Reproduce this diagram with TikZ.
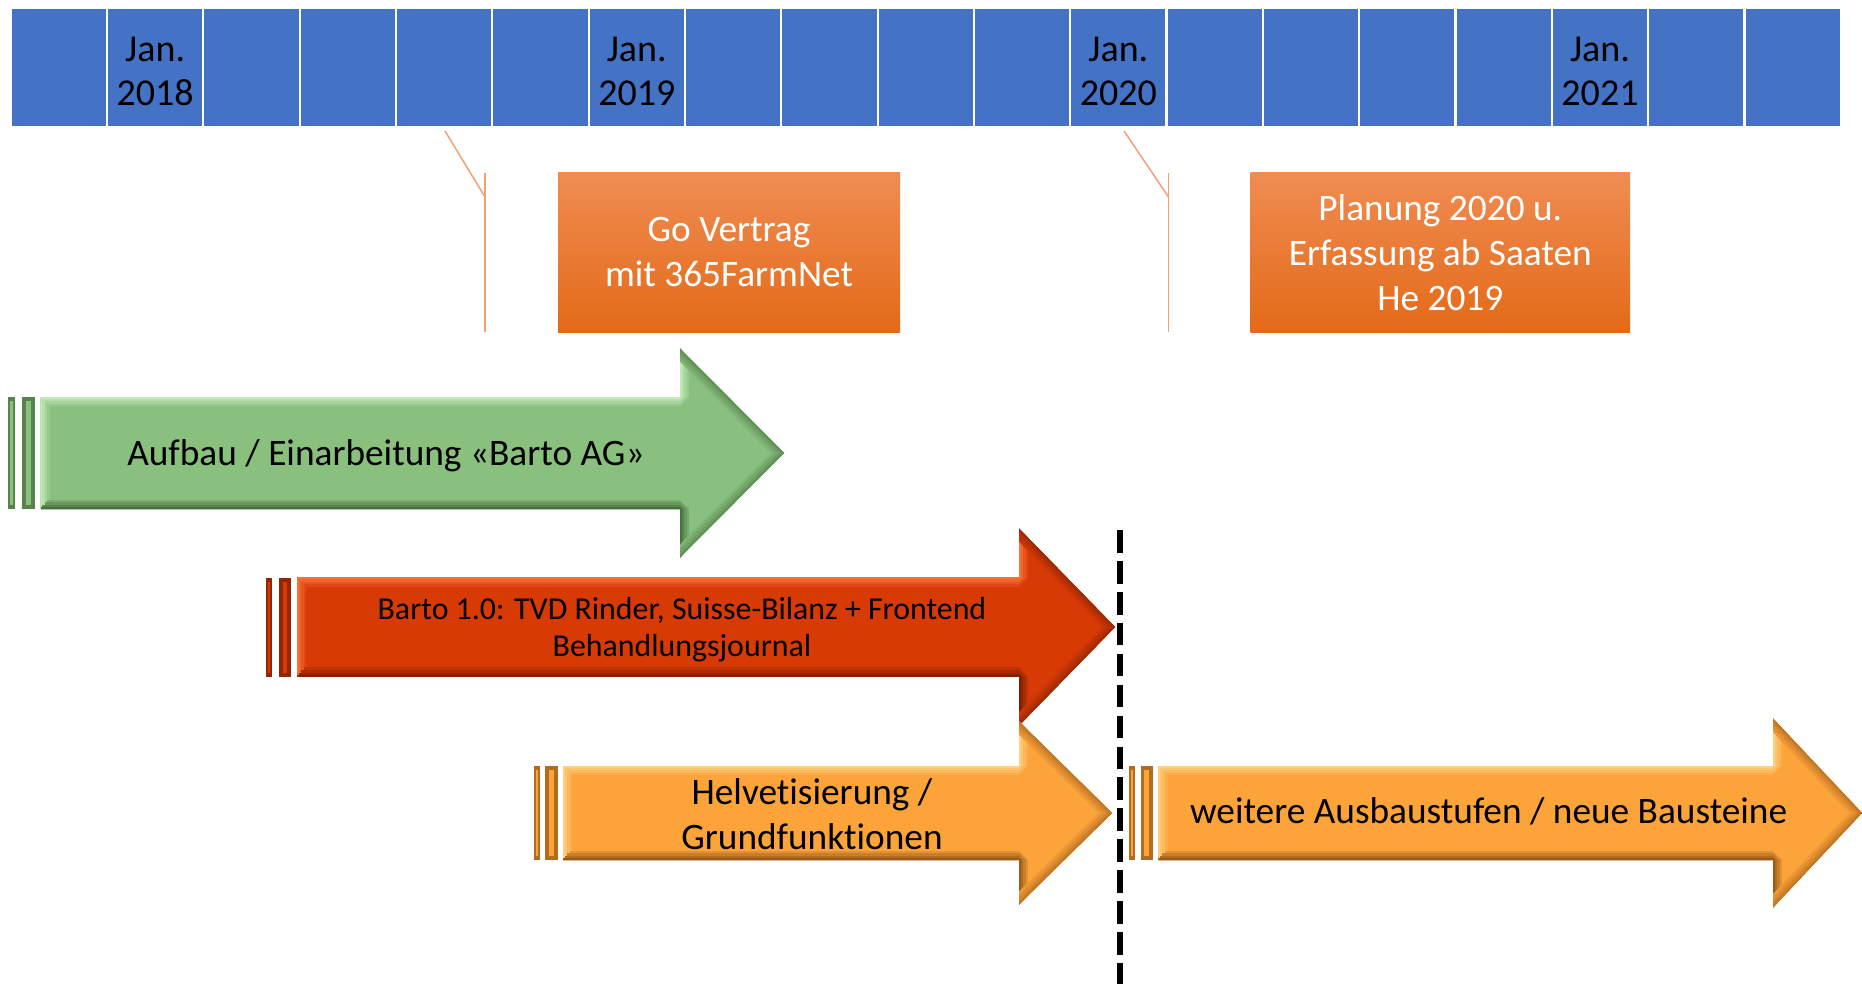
\documentclass[tikz,border=0pt]{standalone}
\usepackage{fontspec}
\setmainfont[Ligatures={NoCommon}]{Carlito}
\definecolor{cellblue}{HTML}{4472C4}
\definecolor{grnF}{HTML}{89C07E}
\definecolor{grnL}{HTML}{C2EAB6}
\definecolor{grnD}{HTML}{46703D}
\definecolor{redF}{HTML}{D83A06}
\definecolor{redL}{HTML}{F8733A}
\definecolor{redD}{HTML}{7A1F02}
\definecolor{orgF}{HTML}{FCA33A}
\definecolor{orgL}{HTML}{FFD080}
\definecolor{orgD}{HTML}{9A5A18}
\definecolor{callout}{HTML}{F4A070}
\definecolor{boxTop}{HTML}{F08C52}
\definecolor{boxBot}{HTML}{E36A18}
\newcommand\bevelarrow[9]{%
  \pgfmathsetmacro\ya{#4-#5}\pgfmathsetmacro\yb{#4+#5}%
  \pgfmathsetmacro\yha{#4-#6}\pgfmathsetmacro\yhb{#4+#6}%
  \begin{scope}
    \fill[#7] (#1,\ya) -- (#2,\ya) -- (#2,\yha) -- (#3,#4) -- (#2,\yhb) -- (#2,\yb) -- (#1,\yb) -- cycle;
    \clip (#1,\ya) -- (#2,\ya) -- (#2,\yha) -- (#3,#4) -- (#2,\yhb) -- (#2,\yb) -- (#1,\yb) -- cycle;
    \foreach \w/\p in {14/25,10/50,6/75,2.5/100}{
      \draw[#8!\p!#7, line width=\w pt, line join=bevel] (#1,\yb) -- (#1,\ya) -- (#2,\ya) -- (#2,\yha);
      \draw[#9!\p!#7, line width=\w pt, line join=bevel] (#1,\yb) -- (#2,\yb) -- (#2,\yhb);
    }
    \foreach \w/\p in {14/15,10/30,6/45,2.5/60}{
      \draw[#9!\p!#7, line width=\w pt, line join=bevel] (#2,\yha) -- (#3,#4) -- (#2,\yhb);
    }
  \end{scope}}
\newcommand\bevelbar[6]{%
  \fill[#6!75!#5] (#1,#3) rectangle (#2,#4);
  \fill[#5] ({#1+0.3*(#2-#1)},{#3+4}) rectangle ({#2-0.3*(#2-#1)},{#4-4});}
\tikzset{
  cell/.style={rectangle, fill=cellblue, draw=white, line width=1.6pt,
    minimum width=72.24pt, minimum height=89.25pt, inner sep=0pt},
  celltext/.style={align=center, inner sep=0pt, yshift=-3pt,
    font=\fontsize{28.5}{32.5}\selectfont},
  milestone/.style={rectangle, top color=boxTop, bottom color=boxBot, inner sep=0pt,
    minimum height=119.25pt, align=center, text=white,
    font=\fontsize{28}{33.75}\selectfont},
  calline/.style={draw=callout, line width=1.1pt},
  bigtxt/.style={font=\fontsize{28}{33.75}\selectfont, align=center, inner sep=0pt},
  smalltxt/.style={font=\fontsize{23.9}{27.5}\selectfont, align=center, inner sep=0pt},
  cutline/.style={line width=4.5pt, dash pattern=on 17pt off 6.2pt}
}
\begin{document}
\begin{tikzpicture}[x=0.75pt,y=-0.75pt]
\useasboundingbox (0,0) rectangle (1862,984);
\fill[white] (0,0) rectangle (1862,984);
% timeline cells
\foreach \i in {1,...,19}{
  \node[cell] (c\i) at ({10.7+(\i-0.5)*96.32},67.5) {};
}
\node[celltext] (l2018) at (c2) {Jan.\\2018};
\node[celltext] (l2019) at (c7) {Jan.\\2019};
\node[celltext] (l2020) at (c12) {Jan.\\2020};
\node[celltext] (l2021) at (c17) {Jan.\\2021};
% callouts
\coordinate (k1a) at (445,131);
\coordinate (k1b) at (485,197);
\coordinate (k1c) at (485,173);
\coordinate (k1d) at (485,332);
\draw[calline] (k1a) -- (k1b);
\draw[calline] (k1c) -- (k1d);
\coordinate (k2a) at (1124,131);
\coordinate (k2b) at (1168.5,197);
\coordinate (k2c) at (1168.5,173);
\coordinate (k2d) at (1168.5,332);
\draw[calline] (k2a) -- (k2b);
\draw[calline] (k2c) -- (k2d);
\node[milestone, minimum width=256.5pt] (go) at (729,252.5) {Go Vertrag\\mit 365FarmNet};
\node[milestone, minimum width=284.6pt] (plan) at (1440.3,252.5) {Planung 2020 u.\\Erfassung ab Saaten\\He 2019};
% green arrow
\bevelbar{8.3}{15}{397}{509}{grnF}{grnD}
\bevelbar{21.7}{35}{397}{509}{grnF}{grnD}
\bevelarrow{40.5}{680}{784}{453}{56}{104.5}{grnF}{grnL}{grnD}
\node[bigtxt, anchor=base] (tgreen) at (386,465) {Aufbau / Einarbeitung «Barto AG»};
% red arrow
\bevelbar{266}{272}{578}{677}{redF}{redD}
\bevelbar{279}{291}{578}{677}{redF}{redD}
\bevelarrow{297}{1019}{1115}{627}{49.5}{98.5}{redF}{redL}{redD}
\node[smalltxt] (tred) at (682,630) {Barto 1.0: TVD Rinder, Suisse-Bilanz + Frontend\\Behandlungsjournal};
% orange arrow 1
\bevelbar{534}{540}{766}{860}{orgF}{orgD}
\bevelbar{545}{558}{766}{860}{orgF}{orgD}
\bevelarrow{563}{1019}{1112}{813}{47}{91.5}{orgF}{orgL}{orgD}
\node[bigtxt] (torg1) at (812,814) {Helvetisierung /\\Grundfunktionen};
% orange arrow 2
\bevelbar{1128.7}{1134.7}{766}{860}{orgF}{orgD}
\bevelbar{1140.6}{1152.5}{766}{860}{orgF}{orgD}
\bevelarrow{1158.4}{1773}{1862}{813}{47}{94.5}{orgF}{orgL}{orgD}
\node[bigtxt, anchor=base] (torg2) at (1488.6,823) {weitere Ausbaustufen / neue Bausteine};
% cut line
\coordinate (dtop) at (1120,530);
\coordinate (dbot) at (1120,984);
\draw[cutline] (dtop) -- (dbot);
\end{tikzpicture}
\end{document}
